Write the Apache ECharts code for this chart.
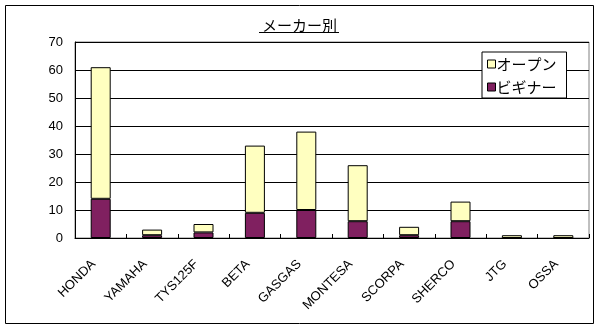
<!DOCTYPE html>
<html>
<head>
<meta charset="utf-8">
<script src="https://cdn.jsdelivr.net/npm/echarts@6/dist/echarts.min.js"></script>
<style>
html,body{margin:0;padding:0;background:#fff;}
#c{width:599px;height:330px;}
</style>
</head>
<body>
<div id="c"></div>
<script>
const categories = ['HONDA','YAMAHA','TYS125F','BETA','GASGAS','MONTESA','SCORPA','SHERCO','JTG','OSSA'];
const beginner = [14, 1, 2, 9, 10, 6, 1, 6, 0, 0];
const open = [47, 2, 3, 24, 28, 20, 3, 7, 1, 1];
const yTicks = {min: 0, max: 70, interval: 10};
const titleText = 'メーカー別';
const seriesNames = ['オープン', 'ビギナー'];

const latin = '"Liberation Sans", Arial, sans-serif';
const jp = '"Noto Sans CJK JP", sans-serif';

const chart = echarts.init(document.getElementById('c'), null, {renderer: 'canvas'});
chart.setOption({
  animation: false,
  backgroundColor: '#ffffff',
  title: {
    text: titleText,
    left: 'center',
    top: 13,
    textStyle: {fontFamily: jp, fontSize: 15, fontWeight: 'normal', color: '#000'}
  },
  legend: {
    data: [
      {name: seriesNames[0], icon: 'rect'},
      {name: seriesNames[1], icon: 'rect'}
    ],
    orient: 'vertical',
    left: 482,
    top: 52,
    itemWidth: 8,
    itemHeight: 8,
    itemGap: 7,
    padding: [4, 10, 3, 5],
    borderColor: '#000',
    borderWidth: 1,
    backgroundColor: '#fff',
    itemStyle: {borderColor: '#000', borderWidth: 1},
    textStyle: {fontFamily: jp, fontSize: 15, lineHeight: 16, color: '#000', padding: [0, 0, 0, -4]}
  },
  grid: {
    left: 75, right: 10, top: 42, bottom: 92,
    show: true, borderColor: '#808080', borderWidth: 1, backgroundColor: 'transparent'
  },
  xAxis: {
    type: 'category',
    data: categories,
    axisLine: {lineStyle: {color: '#000', width: 1}},
    axisTick: {show: true, inside: true, length: 4, interval: 0, lineStyle: {color: '#000'}},
    axisLabel: {interval: 0, rotate: 45, fontFamily: latin, fontSize: 13, color: '#000', margin: 17, padding: [0, 10, 0, 0]}
  },
  yAxis: {
    type: 'value',
    min: yTicks.min, max: yTicks.max, interval: yTicks.interval,
    axisLine: {show: true, lineStyle: {color: '#000', width: 1}},
    axisTick: {show: false},
    splitLine: {lineStyle: {color: '#000', width: 1}},
    axisLabel: {fontFamily: latin, fontSize: 13, color: '#000', margin: 12}
  },
  series: [
    {
      name: seriesNames[1], type: 'bar', stack: 'total', data: beginner, barWidth: 20,
      itemStyle: {color: '#802060', borderColor: '#000', borderWidth: 1}
    },
    {
      name: seriesNames[0], type: 'bar', stack: 'total', data: open, barWidth: 20,
      itemStyle: {color: '#FFFFC0', borderColor: '#000', borderWidth: 1}
    }
  ],
  graphic: [
    {type: 'rect', shape: {x: 5.5, y: 5.5, width: 588, height: 318}, style: {fill: null, stroke: '#000', lineWidth: 1}, silent: true, z: 100},
    {type: 'line', shape: {x1: 259, y1: 32.5, x2: 339, y2: 32.5}, style: {stroke: '#000', lineWidth: 1}, silent: true, z: 100}
  ]
});
</script>
</body>
</html>
